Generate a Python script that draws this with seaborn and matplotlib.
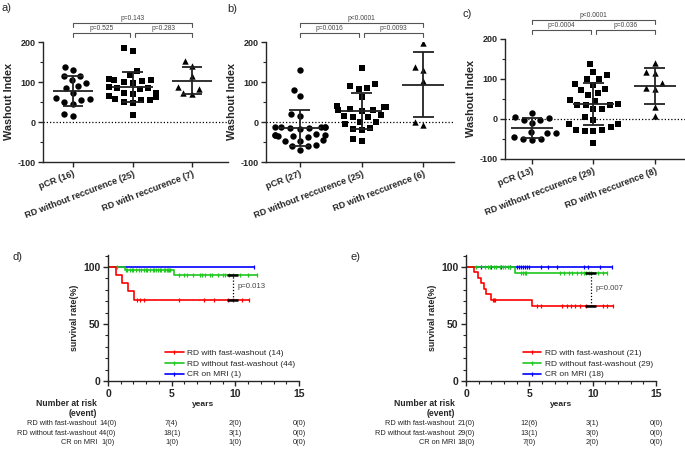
import numpy as np
import pandas as pd
import matplotlib
matplotlib.use("Agg")
import matplotlib.pyplot as plt
from matplotlib.lines import Line2D
from matplotlib.ticker import MultipleLocator
import seaborn as sns

sns.set_style("ticks")
plt.rcParams["font.family"] = ["Liberation Sans", "DejaVu Sans"]
plt.rcParams["axes.unicode_minus"] = False

# ---- washout index data ----
a_groups = ["pCR (16)", "RD without reccurence (25)", "RD with reccurence (7)"]
a_pcr = [138, 129, 116, 114, 106, 97, 90, 84, 72, 60, 57, 55, 50, 45, 20, 14]
a_rd_no = [184, 178, 128, 118, 108, 106, 105, 103, 101, 98, 88, 86, 85, 83, 73,
           72, 70, 66, 62, 57, 56, 55, 50, 48, 18]
a_rd_rec = [153, 140, 116, 88, 83, 72, 70]
a_pvals = ["p=0.525", "p=0.283", "p=0.143"]

b_groups = ["pCR (27)", "RD without reccurence (25)", "RD with reccurence (6)"]
b_pcr = [130, 80, 64, 19, 16, -12, -13, -13, -13, -13, -16, -16, -18, -30, -32,
         -32, -33, -34, -36, -37, -44, -47, -47, -58, -59, -60, -70]
b_rd_no = [135, 95, 91, 84, 83, 63, 41, 38, 37, 33, 30, 30, 28, 17, 16, 13, 12,
           1, 1, -5, -16, -17, -20, -42, -47]
b_rd_rec = [197, 138, 130, 102, -1, -8]
b_pvals = ["p=0.0016", "p=0.0093", "p<0.0001"]

c_groups = ["pCR (13)", "RD without reccurence (29)", "RD with reccurence (8)"]
c_pcr = [14, 4, 2, -2, -3, -11, -32, -34, -34, -46, -50, -50, -53]
c_rd_no = [137, 118, 109, 101, 99, 87, 84, 76, 73, 65, 59, 48, 45, 38, 36, 36,
           35, 25, 24, 4, -3, -13, -13, -21, -27, -28, -29, -29, -61]
c_rd_rec = [139, 118, 116, 90, 78, 76, 31, 8]
c_pvals = ["p=0.0004", "p=0.036", "p<0.0001"]

# ---- Kaplan-Meier data: step times / survival (%) / censor times ----
d_red_t = [0, 0.65, 1.1, 1.55, 2.05]
d_red_s = [100, 92.9, 85.7, 78.6, 71.4]
d_red_cens = [2.3, 2.5, 2.8, 5.6, 7.5, 8.3, 9.4, 9.8, 10.5, 11.05]
d_green_t = [0, 1.35, 5.2]
d_green_s = [100, 97.7, 93.0]
d_green_cens = [0.7, 1.4, 1.5, 1.7, 1.9, 2.0, 2.2, 2.4, 2.6, 2.8, 3.0, 3.1, 3.3,
                3.5, 3.6, 3.8, 3.9, 4.1, 4.2, 4.4, 4.5, 4.6, 4.7, 4.8, 4.9,
                5.6, 6.0, 6.2, 6.7, 7.2, 7.4, 7.6, 8.0, 8.2, 8.6, 9.0, 9.2, 9.5,
                9.8, 10.4, 11.0, 11.7]
d_blue_t = [0]
d_blue_s = [100]
d_blue_cens = [11.5]
d_labels = ["RD with fast-washout (14)", "RD without fast-washout (44)", "CR on MRI (1)"]
d_risk = [["14(0)", "7(4)", "2(0)", "0(0)"],
          ["44(0)", "18(1)", "3(1)", "0(0)"],
          ["1(0)", "1(0)", "1(0)", "0(0)"]]

e_red_t = [0, 0.6, 0.95, 1.15, 1.45, 1.6, 2.0, 5.2]
e_red_s = [100, 95.2, 90.5, 85.7, 81.0, 76.2, 71.4, 65.5]
e_red_cens = [2.1, 2.2, 2.3, 5.6, 5.9, 7.6, 8.0, 8.3, 8.6, 9.0, 9.5, 10.8, 11.1, 11.6]
e_green_t = [0, 3.9]
e_green_s = [100, 94.7]
e_green_cens = [0.8, 1.5, 1.7, 1.9, 2.2, 2.4, 2.7, 2.9, 3.05, 3.3, 3.45, 4.35, 4.5,
                4.65, 4.75, 7.4, 7.7, 8.1, 8.4, 8.8, 9.1, 9.3, 9.5, 9.7, 9.9,
                10.4, 10.8, 11.1]
e_blue_t = [0]
e_blue_s = [100]
e_blue_cens = [1.2, 2.0, 2.8, 3.5, 4.0, 4.2, 4.35, 4.5, 4.65, 4.8, 4.95, 5.9, 6.5,
               7.2, 9.3, 9.6, 10.6, 11.5]
e_labels = ["RD with fast-washout (21)", "RD without fast-washout (29)", "CR on MRI (18)"]
e_risk = [["21(0)", "12(6)", "3(1)", "0(0)"],
          ["29(0)", "13(1)", "3(0)", "0(0)"],
          ["18(0)", "7(0)", "2(0)", "0(0)"]]

risk_years = [0, 5, 10, 15]
risk_names = ["RD with fast-washout", "RD without fast-washout", "CR on MRI"]
km_colors = ["#ff0000", "#1ec81e", "#0000ff"]
markers = ["o", "s", "^"]


def scatter_panel(ax, groups, values, pvals, xlim):
    df = pd.concat([pd.DataFrame({"group": g, "value": v}) for g, v in zip(groups, values)])
    for g, m in zip(groups, markers):
        # invisible edge width only widens the swarm spacing (GraphPad-like gaps)
        sns.swarmplot(data=df[df["group"] == g], x="group", y="value", order=groups,
                      marker=m, color="black", size=4.6, linewidth=1.5,
                      edgecolor=(1, 1, 1, 0), ax=ax, zorder=3)
    # mean +/- SD
    for i, v in enumerate(values):
        mu, sd = np.mean(v), np.std(v, ddof=1)
        ax.hlines(mu, i - 0.34, i + 0.34, color="#222222", lw=1.3, zorder=4)
        ax.vlines(i, mu - sd, mu + sd, color="#222222", lw=1.3, zorder=4)
        ax.hlines([mu - sd, mu + sd], i - 0.17, i + 0.17, color="#222222", lw=1.3, zorder=4)
    ax.axhline(0, color="black", lw=0.9, ls=(0, (1, 1.6)), zorder=1)
    ax.set_xlim(*xlim)
    ax.set_ylim(-100, 200)
    ax.yaxis.set_major_locator(MultipleLocator(100))
    ax.yaxis.set_minor_locator(MultipleLocator(50))
    ax.set_xticks(range(3))
    ax.set_xticklabels(groups, rotation=21, ha="right", rotation_mode="anchor",
                       fontsize=6.5, fontweight="bold")
    for lab in ax.get_yticklabels():
        lab.set_fontsize(6.5)
        lab.set_fontweight("bold")
    ax.tick_params(axis="both", which="major", length=3.5, width=1, pad=2)
    ax.tick_params(axis="y", which="minor", length=2, width=0.8)
    ax.set_xlabel("")
    ax.set_ylabel("Washout Index", fontsize=7.8, fontweight="bold", labelpad=2)
    sns.despine(ax=ax)
    for sp in ["left", "bottom"]:
        ax.spines[sp].set_linewidth(1)

    # significance brackets
    for (x0, x1, y), txt in zip([(0, 0.96, 222), (1.04, 2, 222), (0, 2, 247)], pvals):
        ax.plot([x0, x0, x1, x1], [y - 9, y, y, y - 9], color="#555555", lw=0.8, clip_on=False)
        ax.text((x0 + x1) / 2, y + 2, txt, ha="center", va="bottom", fontsize=4.8,
                color="#444444")


def km_panel(ax, curves, labels, risk, p_x, p_text):
    ends = {}
    # draw order: blue, green, red (red on top)
    for (t, s, cens), col, lab in list(zip(curves, km_colors, labels))[::-1]:
        end = max(cens) if cens else t[-1]
        tt = list(t) + [end]
        ss = list(s) + [s[-1]]
        sns.lineplot(x=tt, y=ss, drawstyle="steps-post", color=col, lw=1.2,
                     estimator=None, ax=ax)
        idx = np.searchsorted(t, cens, side="right") - 1
        ax.plot(cens, np.asarray(s)[idx], ls="none", marker="|", ms=3.5, mew=0.9, color=col)
        ends[col] = s[-1]

    # log-rank annotation between red and green
    y_hi, y_lo = ends[km_colors[1]], ends[km_colors[0]]
    ax.hlines([y_hi, y_lo], p_x - 0.42, p_x + 0.42, color="black", lw=1.8, zorder=5)
    ax.vlines(p_x, y_lo, y_hi, color="black", lw=0.9, ls=(0, (1, 1.5)), zorder=5)
    ax.text(p_x + 0.35, (y_hi + y_lo) / 2 + 1, p_text, ha="left", va="center",
            fontsize=5.6, color="#444444")

    handles = [Line2D([0], [0], color=c, lw=1.2, marker="|", ms=3.5, mew=0.9)
               for c in km_colors]
    ax.legend(handles, labels, loc="lower left", bbox_to_anchor=(0.3, 0.02),
              frameon=False, fontsize=6, handlelength=2.2, handletextpad=0.4,
              labelspacing=0.35, borderpad=0, borderaxespad=0)

    ax.set_xlim(0, 15)
    ax.set_ylim(0, 110.5)
    ax.xaxis.set_major_locator(MultipleLocator(5))
    ax.xaxis.set_minor_locator(MultipleLocator(1))
    ax.set_yticks([0, 50, 100])
    ax.yaxis.set_minor_locator(MultipleLocator(10))
    for lab in ax.get_xticklabels() + ax.get_yticklabels():
        lab.set_fontsize(7.5)
        lab.set_fontweight("bold")
    ax.tick_params(axis="both", which="major", length=3.5, width=1, pad=2)
    ax.tick_params(axis="both", which="minor", length=2, width=0.8)
    ax.set_ylabel("survival rate(%)", fontsize=6.4, fontweight="bold", labelpad=3)
    ax.set_xlabel("years", fontsize=6, fontweight="bold")
    ax.xaxis.set_label_coords(0.5, -0.155)
    sns.despine(ax=ax)
    for sp in ["left", "bottom"]:
        ax.spines[sp].set_linewidth(1)

    # number at risk table
    tr = ax.get_xaxis_transform()
    ax.text(-0.058, -0.175, "Number at risk", transform=ax.transAxes, ha="right",
            va="center", fontsize=6.2, fontweight="bold")
    ax.text(-0.058, -0.255, "(event)", transform=ax.transAxes, ha="right",
            va="center", fontsize=6.2, fontweight="bold")
    for row, name, y in zip(risk, risk_names, [-0.34, -0.414, -0.49]):
        ax.text(-0.058, y, name, transform=ax.transAxes, ha="right", va="center",
                fontsize=5.3)
        for yr, val in zip(risk_years, row):
            ax.text(yr, y, val, transform=tr, ha="center", va="center", fontsize=5.3,
                    clip_on=False)


fig = plt.figure(figsize=(6.85, 4.49), dpi=100)

ax_a = fig.add_axes([43 / 685, 1 - 162 / 449, 185 / 685, 120 / 449])
ax_b = fig.add_axes([266 / 685, 1 - 162 / 449, 188 / 685, 120 / 449])
ax_c = fig.add_axes([505 / 685, 1 - 159 / 449, 180 / 685, 120 / 449])
ax_d = fig.add_axes([108 / 685, 1 - 381 / 449, 191 / 685, 126 / 449])
ax_e = fig.add_axes([466 / 685, 1 - 381 / 449, 190 / 685, 126 / 449])

scatter_panel(ax_a, a_groups, [a_pcr, a_rd_no, a_rd_rec], a_pvals, (-0.5, 2.6))
scatter_panel(ax_b, b_groups, [b_pcr, b_rd_no, b_rd_rec], b_pvals, (-0.55, 2.5))
scatter_panel(ax_c, c_groups, [c_pcr, c_rd_no, c_rd_rec], c_pvals, (-0.44, 2.49))

km_panel(ax_d, [(d_red_t, d_red_s, d_red_cens), (d_green_t, d_green_s, d_green_cens),
                (d_blue_t, d_blue_s, d_blue_cens)], d_labels, d_risk, 9.8, "p=0.013")
km_panel(ax_e, [(e_red_t, e_red_s, e_red_cens), (e_green_t, e_green_s, e_green_cens),
                (e_blue_t, e_blue_s, e_blue_cens)], e_labels, e_risk, 9.85, "p=0.007")

for txt, x, y in [("a)", 2, 3), ("b)", 227, 4), ("c)", 462, 9), ("d)", 12, 252), ("e)", 350, 252)]:
    fig.text(x / 685, 1 - y / 449, txt, ha="left", va="top", fontsize=8)

fig.savefig("out.png", dpi=100)
